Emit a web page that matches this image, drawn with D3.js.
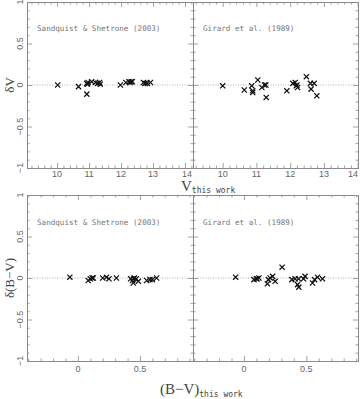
<!DOCTYPE html>
<html><head><meta charset="utf-8">
<script src="https://cdn.jsdelivr.net/npm/d3@7"></script>
<style>html,body{margin:0;padding:0;background:#fff}svg{display:block}</style>
</head><body><svg id="c" width="360" height="399"></svg>
<script>
// ---- data ----
const panelTitles = ["Sandquist & Shetrone (2003)", "Girard et al. (1989)"];
const vTickLabels = [10, 11, 12, 13, 14];
const bvTickLabels = [0, 0.5];
const yTickLabels = [-1, -0.5, 0, 0.5, 1];

const sandV   = [10.02,10.67,10.93,10.95,10.97,10.93,11.08,11.2,11.27,11.33,11.35,11.98,12.15,12.25,12.28,12.32,12.35,12.7,12.75,12.82,12.92];
const sandDV  = [0.0,-0.02,0.02,0.01,0.03,-0.11,0.04,0.03,0.02,0.03,0.01,0.0,0.03,0.04,0.03,0.04,0.04,0.03,0.02,0.02,0.03];

const girV    = [10.0,10.64,10.86,10.89,10.89,11.04,11.16,11.24,11.28,11.29,11.9,12.08,12.15,12.18,12.2,12.22,12.48,12.6,12.62,12.71,12.79];
const girDV   = [-0.01,-0.06,-0.01,-0.07,-0.09,0.06,-0.03,0.0,0.0,-0.15,-0.07,0.02,0.03,-0.01,0.0,-0.03,0.1,0.02,-0.05,0.02,-0.13];

const sandBV  = [-0.065,0.083,0.10,0.115,0.124,0.2,0.23,0.25,0.31,0.425,0.44,0.446,0.45,0.454,0.47,0.487,0.554,0.58,0.6,0.634];
const sandDBV = [0.01,-0.03,-0.01,0.0,0.0,0.0,0.01,-0.01,0.0,-0.01,-0.03,-0.06,-0.01,0.0,-0.01,-0.04,-0.03,-0.02,-0.02,0.0];

const girBV   = [-0.067,0.08,0.10,0.105,0.12,0.196,0.188,0.21,0.23,0.25,0.306,0.384,0.41,0.438,0.43,0.44,0.478,0.49,0.55,0.567,0.59,0.63];
const girDBV  = [0.01,-0.02,-0.01,-0.01,0.0,-0.02,-0.07,0.0,0.02,-0.04,0.13,-0.02,-0.01,-0.01,-0.08,-0.11,-0.01,0.02,-0.06,-0.02,0.01,-0.01];

// ---- drawing ----
const svg = d3.select("#c");
const frameCol = "#8a8a8a", textCol = "#666";

const xL = [27, 193], xR = [193, 358];
const yTop = [168, 2], yBot = [361, 195];

function panel(opts) {
  const {xr, yr, xdom, xMajor, xMinorStep, xFmt, data, title, showY, titleY, xLabY} = opts;
  const x = d3.scaleLinear().domain(xdom).range(xr);
  const y = d3.scaleLinear().domain([-1, 1]).range(yr);
  const g = svg.append("g");
  const xMinor = d3.range(Math.ceil(xdom[0] / xMinorStep) * xMinorStep, xdom[1] + 1e-9, xMinorStep)
    .map(v => +v.toFixed(3)).filter(v => !xMajor.some(m => Math.abs(m - v) < 1e-6));
  const yMinor = d3.range(-1, 1.0001, 0.1).map(v => +v.toFixed(3))
    .filter(v => !yTickLabels.some(m => Math.abs(m - v) < 1e-6));

  g.append("line").attr("x1", xr[0]).attr("x2", xr[1]).attr("y1", y(0)).attr("y2", y(0))
    .attr("stroke", "#999").attr("stroke-width", 0.8).attr("stroke-dasharray", "1,1.5");

  function ax(axisFn, scale, vals, size, transform) {
    const a = g.append("g").attr("transform", transform)
      .call(axisFn(scale).tickValues(vals).tickSize(size).tickFormat(""));
    a.select(".domain").attr("stroke", frameCol).attr("stroke-width", 1);
    a.selectAll(".tick line").attr("stroke", frameCol).attr("stroke-width", 0.8);
    return a;
  }
  const xMaj = xMajor.filter(v => v >= xdom[0] && v <= xdom[1]);
  ax(d3.axisBottom, x, xMaj, -5, `translate(0,${yr[0]})`);
  ax(d3.axisBottom, x, xMinor, -2.5, `translate(0,${yr[0]})`);
  ax(d3.axisTop, x, xMaj, -5, `translate(0,${yr[1]})`);
  ax(d3.axisTop, x, xMinor, -2.5, `translate(0,${yr[1]})`);
  ax(d3.axisLeft, y, yTickLabels, -5, `translate(${xr[0]},0)`);
  ax(d3.axisLeft, y, yMinor, -2.5, `translate(${xr[0]},0)`);
  ax(d3.axisRight, y, yTickLabels, -5, `translate(${xr[1]},0)`);
  ax(d3.axisRight, y, yMinor, -2.5, `translate(${xr[1]},0)`);

  g.selectAll("text.xt").data(xMaj).join("text").attr("class", "xt")
    .attr("x", d => Math.min(x(d) + (x(d) > xr[1] - 12 ? 2 : 0), xr[1] - 5)).attr("y", xLabY)
    .attr("text-anchor", "middle").attr("font-family", "Liberation Sans, sans-serif")
    .attr("font-size", 9).attr("fill", textCol).text(xFmt);

  if (showY) {
    g.selectAll("text.yt").data(yTickLabels).join("text").attr("class", "yt")
      .attr("transform", d => `translate(23,${y(d)}) rotate(-90)`)
      .attr("text-anchor", "middle").attr("font-family", "Liberation Sans, sans-serif")
      .attr("font-size", 9).attr("fill", textCol).text(d => d < 0 ? "\u2212" + Math.abs(d) : d);
  }

  g.append("text").attr("x", xr[0] + 10).attr("y", titleY)
    .attr("font-family", "DejaVu Sans Mono, monospace").attr("font-size", 7.6)
    .attr("fill", "#777").text(title);

  const s = 2.6;
  const pts = g.selectAll("g.pt").data(data).join("g").attr("class", "pt")
    .attr("transform", d => `translate(${x(d[0])},${y(d[1])})`);
  pts.append("path").attr("d", `M${-s},${-s}L${s},${s}M${-s},${s}L${s},${-s}`)
    .attr("stroke", "#111").attr("stroke-width", 1.25).attr("fill", "none");
}

const zip = (a, b) => a.map((v, i) => [v, b[i]]);

panel({xr: xL, yr: yTop, xdom: [9.06, 14.25], xMajor: vTickLabels, xMinorStep: 0.2, xFmt: d => d,
  data: zip(sandV, sandDV), title: panelTitles[0], showY: true, titleY: 31, xLabY: 177});
panel({xr: xR, yr: yTop, xdom: [9.12, 14.01], xMajor: vTickLabels, xMinorStep: 0.2, xFmt: d => d,
  data: zip(girV, girDV), title: panelTitles[1], showY: false, titleY: 31, xLabY: 177});
panel({xr: xL, yr: yBot, xdom: [-0.41, 0.927], xMajor: bvTickLabels, xMinorStep: 0.1, xFmt: d => d,
  data: zip(sandBV, sandDBV), title: panelTitles[0], showY: true, titleY: 225, xLabY: 372});
panel({xr: xR, yr: yBot, xdom: [-0.409, 0.915], xMajor: bvTickLabels, xMinorStep: 0.1, xFmt: d => d,
  data: zip(girBV, girDBV), title: panelTitles[1], showY: false, titleY: 225, xLabY: 372});

const serif = "Liberation Serif, serif";
svg.append("text").attr("transform", "translate(14,85) rotate(-90)").attr("text-anchor", "middle")
  .attr("font-family", serif).attr("font-size", 13).attr("fill", "#444").text("\u03b4V");
svg.append("text").attr("transform", "translate(14,278) rotate(-90)").attr("text-anchor", "middle")
  .attr("font-family", serif).attr("font-size", 13).attr("fill", "#444").text("\u03b4(B\u2212V)");

const t1 = svg.append("text").attr("x", 181).attr("y", 191).attr("font-family", serif).attr("fill", "#444");
t1.append("tspan").attr("font-size", 15).text("V");
t1.append("tspan").attr("font-family", "DejaVu Sans Mono, monospace").attr("font-size", 8).attr("dy", 2).text("this work");

const t2 = svg.append("text").attr("x", 160).attr("y", 394).attr("font-family", serif).attr("fill", "#444");
t2.append("tspan").attr("font-size", 15).text("(B\u2212V)");
t2.append("tspan").attr("font-family", "DejaVu Sans Mono, monospace").attr("font-size", 8).attr("dy", 3).text("this work");
</script></body></html>
